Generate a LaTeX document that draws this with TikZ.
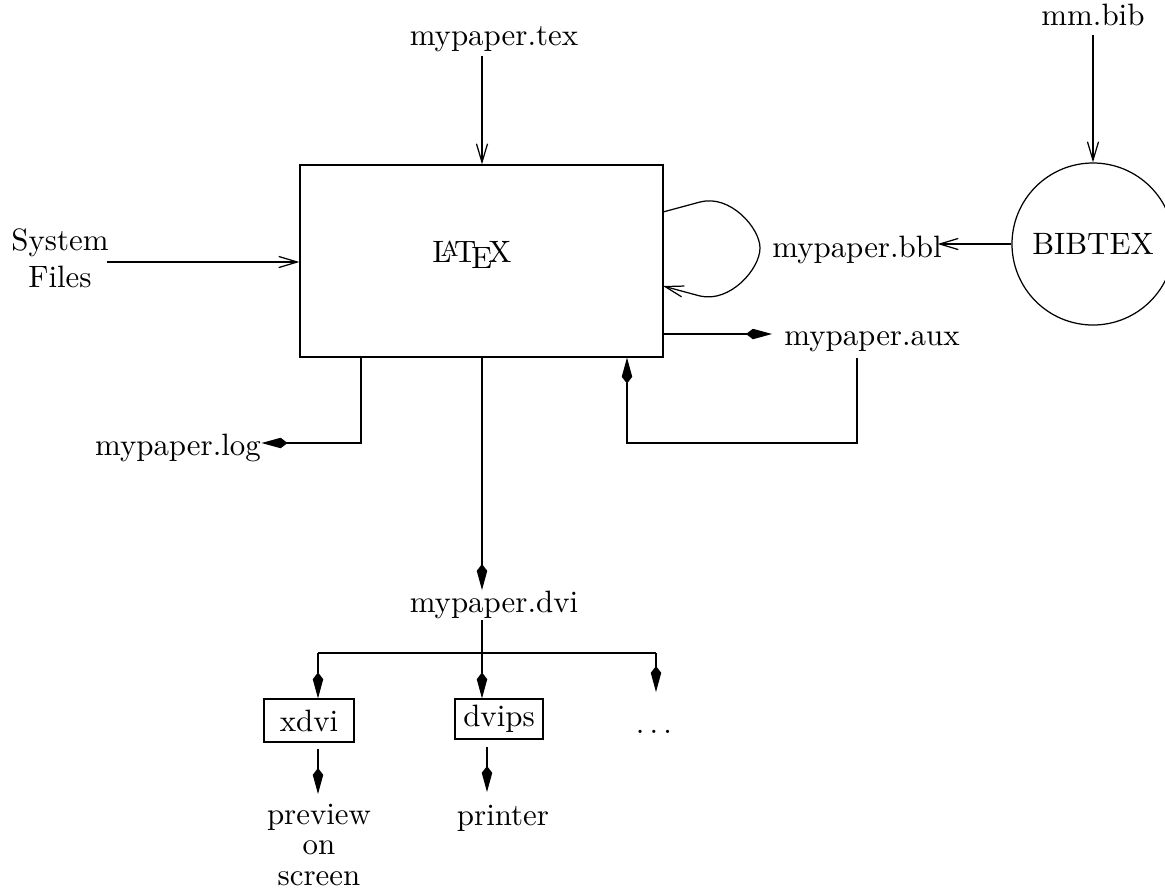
\documentclass[tikz,border=0pt]{standalone}
\usetikzlibrary{arrows.meta}
\begin{document}
\tikzset{
  kite/.style={-{Kite[length=8.4pt,width=3.4pt,inset=2.2pt]}},
  open/.style={-{Straight Barb[length=6pt,width=3.6pt]}},
  txt/.style={inner sep=0pt, anchor=base},
  boxed/.style={draw, inner sep=0pt},
}
\begin{tikzpicture}[x=0.3236pt,y=-0.3236pt, line width=0.4pt]
\useasboundingbox (0,0) rectangle (1165,888);
\clip (0,0) rectangle (1165,888);
% nodes
\node[boxed, minimum width=363*0.3236pt, minimum height=192*0.3236pt] (box) at (481.5,261) {};
\node[txt] (latex) at (472,262) {\LaTeX};
\node[txt] (tex) at (494,45) {mypaper.tex};
\node[inner sep=0pt, align=center] (sys) at (60,258) {System\\Files};
\node[draw, circle, minimum size=162*0.3236pt, inner sep=0pt] (bib) at (1093,244) {BIBTEX};
\node[txt] (mmbib) at (1093,25) {mm.bib};
\node[txt] (bbl) at (857,257) {mypaper.bbl};
\node[txt] (aux) at (872,345) {mypaper.aux};
\node[txt] (log) at (178,455) {mypaper.log};
\node[txt] (dvi) at (494,612) {mypaper.dvi};
\node[boxed, minimum width=90*0.3236pt, minimum height=43*0.3236pt] (xdvi) at (309,720.5) {xdvi};
\node[boxed, minimum width=88*0.3236pt, minimum height=40*0.3236pt] (dvips) at (499,719) {dvips};
\node[txt] (dots) at (654,733) {$\ldots$};
\node[inner sep=0pt, align=center, anchor=north] (prev) at (319,804) {preview\\[-2.5pt]on\\[-2pt]screen};
\node[txt] (printer) at (503,825) {printer};
% coordinates
\coordinate (t1) at (482,56);
\coordinate (m1) at (1093,35);
\coordinate (s1) at (107,262);
\coordinate (l1) at (663,212);
\coordinate (l2) at (663,286);
\coordinate (a1) at (663,334);
\coordinate (f1) at (857,358);
\coordinate (f2) at (627,443);
\coordinate (g1) at (361,443);
\coordinate (d0) at (482,590);
\coordinate (d1) at (482,620);
\coordinate (b1) at (318,653);
\coordinate (b2) at (482,653);
\coordinate (b3) at (656,653);
\coordinate (b4) at (656,692);
\coordinate (x1) at (318,749);
\coordinate (x2) at (318,794);
\coordinate (p1) at (487,747);
\coordinate (p2) at (487,792);
% connectors
\draw[open] (t1) -- (t1 |- box.north);
\draw[open] (m1) -- (bib.north);
\draw[open] (s1) -- (s1 -| box.west);
\draw[open] (bib.west) -- ([xshift=-1.5pt]bib.west -| bbl.east);
\draw[open] (l1) -- (700,202) .. controls (730,194) and (760,228) .. (760,248)
  .. controls (760,269) and (730,303) .. (700,296) -- (l2);
\draw[kite] (a1) -- ([xshift=-3.8pt]a1 -| aux.west);
\draw[kite] (f1) |- (f2) -- (f2 |- box.south);
\draw[kite] (g1 |- box.south) -- (g1) -- (log.east |- g1);
\draw[kite] (d0 |- box.south) -- (d0);
\draw (d1) -- (b2);
\draw (b1) -- (b3);
\draw[kite] (b1) -- (b1 |- xdvi.north);
\draw[kite] (b2) -- (b2 |- dvips.north);
\draw[kite] (b3) -- (b4);
\draw[kite] (x1) -- (x2);
\draw[kite] (p1) -- (p2);
\end{tikzpicture}
\end{document}
